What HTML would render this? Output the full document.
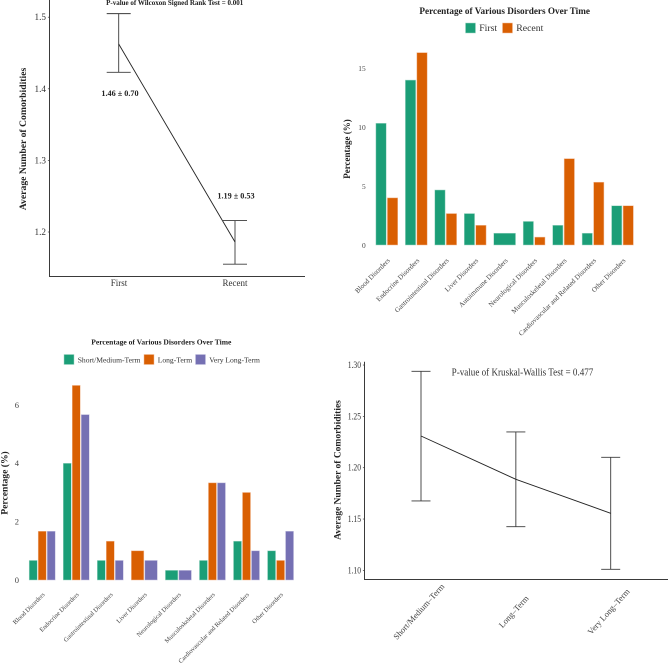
<!DOCTYPE html>
<html lang="en">
<head>
<meta charset="utf-8">
<title>Comorbidities and disorders over time</title>
<style>
html,body{margin:0;padding:0;background:#fff;width:669px;height:665px;overflow:hidden}
svg{display:block;font-family:"Liberation Serif",serif}
</style>
</head>
<body>
<svg id="figure" xmlns="http://www.w3.org/2000/svg" width="669" height="665" viewBox="0 0 669 665">
<rect width="669" height="665" fill="#fff"/>
<g id="root" style="filter:blur(0.25px)"></g>
</svg>
<script>
const linePanelACategories = ['First', 'Recent'];
const linePanelAMeans = [1.4626, 1.186];
const linePanelAUpper = [1.505, 1.216];
const linePanelALower = [1.423, 1.155];
const linePanelATicks = [1.2, 1.3, 1.4, 1.5];
const linePanelATickLabels = ['1.2', '1.3', '1.4', '1.5'];
const linePanelAValueLabels = ['1.46 ± 0.70', '1.19 ± 0.53'];

const barPanelACategories = ['Blood Disorders', 'Endocrine Disorders', 'Gastrointestinal Disorders', 'Liver Disorders', 'Autoimmune Disorders', 'Neurological Disorders', 'Musculoskeletal Disorders', 'Cardiovascular and Related Disorders', 'Other Disorders'];
const barPanelASeriesNames = ['First', 'Recent'];
const barPanelAFirst = [10.33, 14, 4.67, 2.67, 1, 2, 1.67, 1, 3.33];
const barPanelARecent = [4, 16.33, 2.67, 1.67, null, 0.67, 7.33, 5.33, 3.33];
const barPanelATicks = [0, 5, 10, 15];

const barPanelBCategories = ['Blood Disorders', 'Endocrine Disorders', 'Gastrointestinal Disorders', 'Liver Disorders', 'Neurological Disorders', 'Musculoskeletal Disorders', 'Cardiovascular and Related Disorders', 'Other Disorders'];
const barPanelBSeriesNames = ['Short/Medium-Term', 'Long-Term', 'Very Long-Term'];
const barPanelBShort = [0.67, 4, 0.67, null, 0.33, 0.67, 1.33, 1];
const barPanelBLong = [1.67, 6.67, 1.33, 1, null, 3.33, 3, 0.67];
const barPanelBVeryLong = [1.67, 5.67, 0.67, 0.67, 0.33, 3.33, 1, 1.67];
const barPanelBTicks = [0, 2, 4, 6];

const linePanelBCategories = ['Short/Medium–Term', 'Long–Term', 'Very Long–Term'];
const linePanelBMeans = [1.2309, 1.1887, 1.1556];
const linePanelBUpper = [1.2939, 1.2348, 1.2101];
const linePanelBLower = [1.1676, 1.1425, 1.101];
const linePanelBTicks = [1.1, 1.15, 1.2, 1.25, 1.3];
const linePanelBTickLabels = ['1.10', '1.15', '1.20', '1.25', '1.30'];

const NS = 'http://www.w3.org/2000/svg';
const root = document.getElementById('root');
const COLORS = ['#1b9e77', '#d95f02', '#7570b3'];
const HALOS = ['#a5d8c8', '#f2bd9a', '#c8c5e1'];

function make(tag, props, parent) {
  const el = document.createElementNS(NS, tag);
  for (const k in props) el.setAttribute(k, props[k]);
  (parent || root).appendChild(el);
  return el;
}
function label(str, x, y, size, opts) {
  const o = opts || {};
  const props = {x: x, y: y, 'font-size': size, fill: o.fill || '#222', 'text-anchor': o.anchor || 'middle'};
  if (o.bold) props['font-weight'] = 'bold';
  if (o.length) {
    props.textLength = o.length;
    props.lengthAdjust = 'spacingAndGlyphs';
  }
  if (o.rotate !== undefined) props.transform = 'rotate(' + o.rotate + ' ' + x + ' ' + y + ')';
  const el = make('text', props, o.parent);
  el.textContent = str;
  return el;
}

function drawLinePanel(cfg) {
  const g = make('g', {});
  
  
  const y = cfg.y;
  const x = cfg.x;
  const stroke = '#3a3a3a';

  const yAxis = make('line', {x1: cfg.axisX, x2: cfg.axisX, y1: cfg.top, y2: cfg.axisY, stroke: stroke, 'stroke-width': 1}, g);
  
  
  const xAxis = make('line', {x1: cfg.axisX - 0.5, x2: cfg.right, y1: cfg.axisY, y2: cfg.axisY, stroke: stroke, 'stroke-width': 1}, g);
  
  

  cfg.ticks.forEach(function (t, i) {
    const mark = make('line', {x1: cfg.axisX - 1.6, x2: cfg.axisX, y1: y(t), y2: y(t), stroke: stroke, 'stroke-width': 0.7}, g);
    
    
    const tl = label(cfg.tickLabels[i], cfg.axisX - 3.5, y(t) + 3, cfg.tickSize, {anchor: 'end', fill: '#333', parent: g, length: cfg.tickLength});
    
    
  });

  cfg.upper.forEach(function (u, i) {
    const cx = x(i);
    const err = make('path', {
      d: 'M' + (cx - cfg.cap) + ' ' + y(u) + 'H' + (cx + cfg.cap) + 'M' + cx + ' ' + y(u) + 'V' + y(cfg.lower[i]) + 'M' + (cx - cfg.cap) + ' ' + y(cfg.lower[i]) + 'H' + (cx + cfg.cap),
      fill: 'none', stroke: stroke, 'stroke-width': 0.9
    }, g);
    
    
  });

  const pts = cfg.means.map(function (m, i) { return x(i) + ',' + y(m); }).join(' ');
  const meanLine = make('polyline', {points: pts, fill: 'none', stroke: '#222', 'stroke-width': 0.9}, g);
  
  
  return g;
}

function drawBarPanel(cfg) {
  const g = make('g', {});
  
  
  const y = cfg.y;

  cfg.ticks.forEach(function (t) {
    const tl = label(String(t), cfg.tickRight, y(t) + 2.8, cfg.tickSize, {anchor: 'end', fill: '#444', parent: g});
    
    
  });

  cfg.categories.forEach(function (cat, c) {
    const cx = cfg.x(c);
    const present = [];
    cfg.series.forEach(function (s, si) {
      if (s[c] !== null) present.push(si);
    });
    const slot = cfg.groupWidth / present.length;
    present.forEach(function (si, k) {
      const val = cfg.series[si][c];
      const bx = cx - cfg.groupWidth / 2 + k * slot + cfg.gap / 2;
      const bar = make('rect', {
        x: bx, y: y(val), width: slot - cfg.gap, height: y(0) - y(val),
        fill: COLORS[si], stroke: HALOS[si], 'stroke-width': 0.5
      }, g);
      
      
    });
    const ax = cx + cfg.labelDx;
    const cl = label(cat, ax, cfg.labelY, cfg.labelSize, {anchor: 'end', fill: '#444', rotate: -45, parent: g});
    
    
  });

  cfg.seriesNames.forEach(function (nm, i) {
    const sw = make('rect', {x: cfg.legendX[i], y: cfg.legendY, width: cfg.legendSwatch, height: cfg.legendSwatch, fill: COLORS[i], stroke: HALOS[i], 'stroke-width': 0.5}, g);
    
    
    const lt = label(nm, cfg.legendX[i] + cfg.legendSwatch + 3.7, cfg.legendBase, cfg.legendSize, {anchor: 'start', fill: '#333', parent: g});
    
    
  });
  return g;
}

/* Panel A: line chart, first vs recent */
const panelA = drawLinePanel({
  name: 'comorbidity-line-panel-first-recent',
  axisX: 49.5, axisY: 276.5, top: 0, right: 305,
  y: function (v) { return 232 + (1.2 - v) * 716; },
  x: function (i) { return 118.7 + i * 116.3; },
  ticks: linePanelATicks, tickLabels: linePanelATickLabels, tickSize: 9.2,
  means: linePanelAMeans, upper: linePanelAUpper, lower: linePanelALower, cap: 12
});
const panelATitle = label('P-value of Wilcoxon Signed Rank Test = 0.001', 174.7, 5, 7, {bold: true, fill: '#222', parent: panelA});


const panelAYTitle = label('Average Number of Comorbidities', 26, 139, 9.7, {bold: true, rotate: -90, parent: panelA});


const panelAX0 = label(linePanelACategories[0], 119, 286, 9, {fill: '#333', parent: panelA});


const panelAX1 = label(linePanelACategories[1], 235, 286, 9, {fill: '#333', parent: panelA});


const panelAV0 = label(linePanelAValueLabels[0], 120, 96, 8.2, {bold: true, parent: panelA});


const panelAV1 = label(linePanelAValueLabels[1], 236, 198.5, 8.2, {bold: true, parent: panelA});



/* Panel B: bar chart, first vs recent */
const panelB = drawBarPanel({
  name: 'disorders-bar-panel-first-recent',
  categories: barPanelACategories,
  series: [barPanelAFirst, barPanelARecent],
  seriesNames: barPanelASeriesNames,
  ticks: barPanelATicks, tickRight: 365.7, tickSize: 7.4,
  y: function (v) { return 245 - v * 11.78; },
  x: function (i) { return 386.8 + i * 29.46; },
  groupWidth: 23, gap: 1.2,
  labelDx: 3.5, labelY: 261, labelSize: 7,
  legendX: [465.5, 502.5], legendY: 23, legendSwatch: 10, legendBase: 30.8, legendSize: 9.8
});
const panelBTitle = label('Percentage of Various Disorders Over Time', 504.7, 14, 9.2, {bold: true, parent: panelB});


const panelBYTitle = label('Percentage (%)', 350, 149, 9, {bold: true, rotate: -90, parent: panelB});



/* Panel C: bar chart, three durations */
const panelC = drawBarPanel({
  name: 'disorders-bar-panel-duration',
  categories: barPanelBCategories,
  series: [barPanelBShort, barPanelBLong, barPanelBVeryLong],
  seriesNames: barPanelBSeriesNames,
  ticks: barPanelBTicks, tickRight: 19, tickSize: 8.5,
  y: function (v) { return 580 - v * 29.17; },
  x: function (i) { return 42.2 + i * 34.05; },
  groupWidth: 27, gap: 1,
  labelDx: 3, labelY: 595, labelSize: 6.4,
  legendX: [64, 144, 195.5], legendY: 354.5, legendSwatch: 10, legendBase: 362.3, legendSize: 7.6
});
const panelCTitle = label('Percentage of Various Disorders Over Time', 161.3, 344.7, 7.55, {bold: true, parent: panelC});


const panelCYTitle = label('Percentage (%)', 7.5, 483, 9.6, {bold: true, rotate: -90, parent: panelC});



/* Panel D: line chart, three durations */
const panelD = drawLinePanel({
  name: 'comorbidity-line-panel-duration',
  axisX: 364.5, axisY: 579.5, top: 361.7, right: 668,
  y: function (v) { return 467.7 + (1.2 - v) * 1026.6; },
  x: function (i) { return 421 + i * 94.85; },
  ticks: linePanelBTicks, tickLabels: linePanelBTickLabels, tickSize: 9, tickLength: 13.3,
  means: linePanelBMeans, upper: linePanelBUpper, lower: linePanelBLower, cap: 9.5
});
const panelDNote = label('P-value of Kruskal-Wallis Test = 0.477', 522.5, 375.7, 10, {fill: '#333', parent: panelD, length: 141.7});


const panelDYTitle = label('Average Number of Comorbidities', 340.5, 470, 9.5, {bold: true, rotate: -90, parent: panelD});


linePanelBCategories.forEach(function (c, i) {
  const tl = label(c, 421 + i * 94.85, 613.5, 8.5, {fill: '#444', rotate: -48, parent: panelD});
  
  
});
</script>
</body>
</html>
